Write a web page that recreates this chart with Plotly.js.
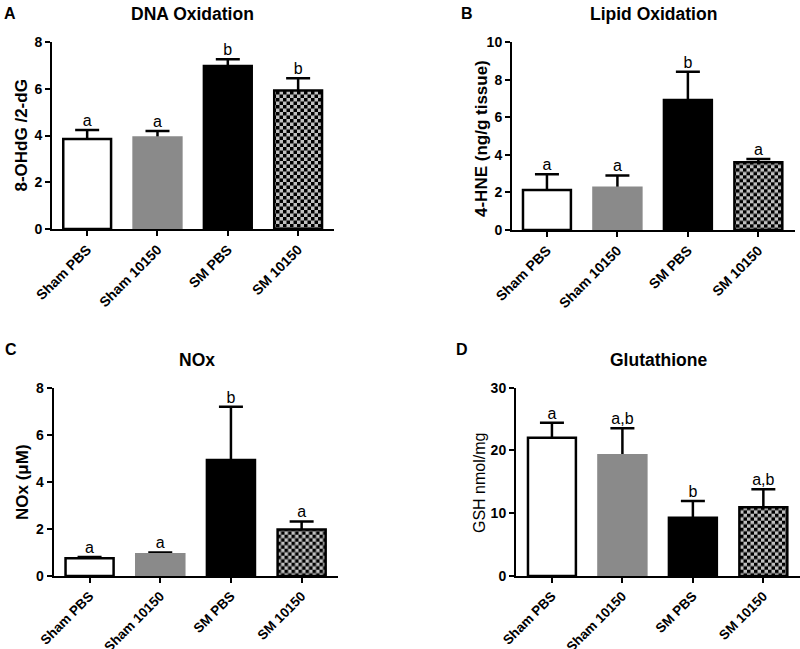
<!DOCTYPE html>
<html>
<head>
<meta charset="utf-8">
<script src="https://cdn.plot.ly/plotly-3.0.1.min.js"></script>
<style>
  html, body { margin: 0; padding: 0; background: #fff; }
  #chart { width: 800px; height: 649px; }
</style>
</head>
<body>
<div id="chart"></div>
<script>
// ---- data ----
var categories = ['Sham PBS', 'Sham 10150', 'SM PBS', 'SM 10150'];

var dnaMean = [3.85, 3.92, 6.97, 5.93];
var dnaSem  = [0.39, 0.27, 0.29, 0.52];
var dnaLetters = ['a', 'a', 'b', 'b'];

var lipidMean = [2.13, 2.25, 6.93, 3.61];
var lipidSem  = [0.84, 0.66, 1.50, 0.17];
var lipidLetters = ['a', 'a', 'b', 'a'];

var noxMean = [0.75, 0.92, 4.93, 1.98];
var noxSem  = [0.06, 0.08, 2.26, 0.34];
var noxLetters = ['a', 'a', 'b', 'a'];

var gshMean = [22.04, 19.22, 9.29, 10.94];
var gshSem  = [2.39, 4.31, 2.66, 2.87];
var gshLetters = ['a', 'a,b', 'b', 'a,b'];

var panelTitles = ['DNA Oxidation', 'Lipid Oxidation', 'NOx', 'Glutathione'];
var panelLetters = ['A', 'B', 'C', 'D'];
var yTitles = ['8-OHdG /2-dG', '4-HNE (ng/g tissue)', 'NOx (\u03bcM)', 'GSH nmol/mg'];

// ---- styling ----
var FONT = 'Arial, "Liberation Sans", sans-serif';
var fillColors = ['#ffffff', '#8a8a8a', '#000000', '#c0c0c0'];
var lineColors = ['#000000', '#8a8a8a', '#000000', '#000000'];
var patternShapes = ['', '', '', '+'];
var BARW = 0.68;

var panels = [
  {mean: dnaMean, sem: dnaSem, letters: dnaLetters, xa: 'x', ya: 'y'},
  {mean: lipidMean, sem: lipidSem, letters: lipidLetters, xa: 'x2', ya: 'y2'},
  {mean: noxMean, sem: noxSem, letters: noxLetters, xa: 'x3', ya: 'y3'},
  {mean: gshMean, sem: gshSem, letters: gshLetters, xa: 'x4', ya: 'y4'}
];

var traces = [];
panels.forEach(function (p) {
  // error bars (drawn underneath the opaque bars so only the upper half shows)
  traces.push({
    type: 'bar', x: categories, y: p.mean, xaxis: p.xa, yaxis: p.ya,
    width: BARW,
    marker: {color: 'rgba(0,0,0,0)', line: {width: 0}},
    error_y: {type: 'data', array: p.sem, symmetric: true, color: '#000', thickness: 2.5, width: 12},
    hoverinfo: 'skip', showlegend: false
  });
  // bars
  traces.push({
    type: 'bar', x: categories, y: p.mean, xaxis: p.xa, yaxis: p.ya,
    width: BARW,
    marker: {
      color: fillColors,
      line: {color: lineColors, width: 2.5},
      pattern: {shape: patternShapes, fgcolor: '#000000', bgcolor: '#c0c0c0', size: 7, solidity: 0.5, fillmode: 'replace'}
    },
    showlegend: false
  });
  // significance letters
  traces.push({
    type: 'scatter', mode: 'text', x: categories,
    y: p.mean.map(function (m, i) { return m + p.sem[i]; }),
    text: p.letters, textposition: 'top center',
    textfont: {family: FONT, size: 16, color: '#000'},
    xaxis: p.xa, yaxis: p.ya, cliponaxis: false, showlegend: false, hoverinfo: 'skip'
  });
});

function xAxis(domain, range, anchor, fs) {
  return {
    domain: domain, range: range, anchor: anchor, type: 'category',
    showline: true, linecolor: '#000', linewidth: 2,
    ticks: 'outside', ticklen: 5, tickwidth: 2, tickcolor: '#000',
    tickangle: -45, showgrid: false, zeroline: false, fixedrange: true,
    tickfont: {family: FONT, size: fs, color: '#000', weight: 'bold'}
  };
}
function yAxis(domain, range, dtick, anchor) {
  return {
    domain: domain, range: range, dtick: dtick, anchor: anchor,
    showline: true, linecolor: '#000', linewidth: 2,
    ticks: 'outside', ticklen: 5, tickwidth: 2, tickcolor: '#000',
    showgrid: false, zeroline: false, fixedrange: true,
    tickfont: {family: FONT, size: 14, color: '#000', weight: 'bold'}
  };
}

var annotations = [];
var titlePos = [[192, 14], [653, 14], [197, 360], [658, 360]];
var letterPos = [[10, 13], [467, 13], [11, 349], [462, 349]];
var yTitlePos = [[21, 135.5], [481, 138], [22, 482], [479, 483]];
var yTitleBold = [true, true, true, false];
var yTitleSize = [17, 17, 17, 16];
for (var i = 0; i < 4; i++) {
  annotations.push({
    xref: 'paper', yref: 'paper', x: titlePos[i][0] / 800, y: 1 - titlePos[i][1] / 649,
    xanchor: 'center', yanchor: 'middle', showarrow: false, text: panelTitles[i],
    font: {family: FONT, size: 17.5, color: '#000', weight: 'bold'}
  });
  annotations.push({
    xref: 'paper', yref: 'paper', x: letterPos[i][0] / 800, y: 1 - letterPos[i][1] / 649,
    xanchor: 'center', yanchor: 'middle', showarrow: false, text: panelLetters[i],
    font: {family: FONT, size: 16, color: '#000', weight: 'bold'}
  });
  annotations.push({
    xref: 'paper', yref: 'paper', x: yTitlePos[i][0] / 800, y: 1 - yTitlePos[i][1] / 649,
    xanchor: 'center', yanchor: 'middle', showarrow: false, text: yTitles[i], textangle: -90,
    font: {family: FONT, size: yTitleSize[i], color: '#000', weight: yTitleBold[i] ? 'bold' : 'normal'}
  });
}

var layout = {
  width: 800, height: 649,
  margin: {l: 0, r: 0, t: 0, b: 0},
  paper_bgcolor: '#fff', plot_bgcolor: 'rgba(0,0,0,0)',
  barmode: 'overlay', showlegend: false,
  font: {family: FONT, color: '#000'},
  xaxis:  xAxis([0.065, 0.4175], [-0.5, 3.51], 'y', 14),
  yaxis:  yAxis([0.6471, 0.9353], [0, 8], 2, 'x'),
  xaxis2: xAxis([0.64, 0.99375], [-0.496, 3.52], 'y2', 14),
  yaxis2: yAxis([0.6456, 0.9348], [0, 10], 2, 'x2'),
  xaxis3: xAxis([0.0669, 0.4221], [-0.51, 3.51], 'y3', 13.5),
  yaxis3: yAxis([0.1125, 0.4026], [0, 8], 2, 'x3'),
  xaxis4: xAxis([0.645, 1.0], [-0.51, 3.52], 'y4', 13.5),
  yaxis4: yAxis([0.1125, 0.4026], [0, 30], 10, 'x4'),
  annotations: annotations
};

Plotly.newPlot('chart', traces, layout, {staticPlot: true}).then(function (gd) {
  // turn plotly's fill pattern into a checkerboard like the original
  var NS = 'http://www.w3.org/2000/svg';
  var c = 3.5;
  gd.querySelectorAll('pattern').forEach(function (pat) {
    pat.setAttribute('width', 2 * c);
    pat.setAttribute('height', 2 * c);
    pat.removeAttribute('patternTransform');
    while (pat.firstChild) pat.removeChild(pat.firstChild);
    var bg = document.createElementNS(NS, 'rect');
    bg.setAttribute('x', 0); bg.setAttribute('y', 0);
    bg.setAttribute('width', 2 * c); bg.setAttribute('height', 2 * c);
    bg.setAttribute('fill', '#c0c0c0');
    pat.appendChild(bg);
    [[0, 0], [c, c]].forEach(function (o) {
      var r = document.createElementNS(NS, 'rect');
      r.setAttribute('x', o[0]); r.setAttribute('y', o[1]);
      r.setAttribute('width', c); r.setAttribute('height', c);
      r.setAttribute('fill', '#000');
      pat.appendChild(r);
    });
  });
});
</script>
</body>
</html>
